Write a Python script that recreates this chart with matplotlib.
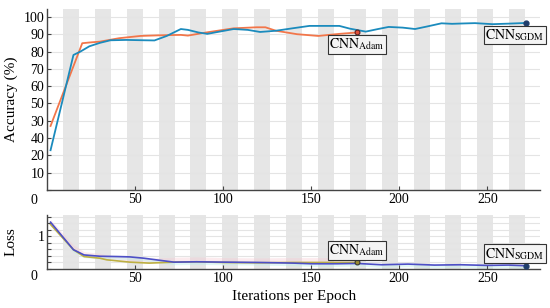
import numpy as np
import matplotlib
matplotlib.use('Agg')
import matplotlib.pyplot as plt

plt.rcParams['font.family'] = ['Liberation Serif', 'DejaVu Serif']
plt.rcParams['mathtext.fontset'] = 'stix'
plt.rcParams['font.size'] = 10

# accuracy curves (x = iteration, y = %)
acc_sgdm_x = [2, 15, 19, 24, 30, 36, 45, 55, 61, 68, 73, 76, 80, 86, 91, 98, 106,
              114, 121, 130, 140, 149, 157, 166, 172, 181, 188, 194, 202, 209,
              216, 224, 230, 236, 243, 253, 262, 272]
acc_sgdm_y = [23, 78, 80, 83, 85, 86.5, 86.7, 86.5, 86.4, 89, 91.5, 93, 92.5, 91,
              90.2, 91.5, 93, 92.5, 91.3, 92, 93.5, 94.8, 94.8, 94.8, 93.2, 91.5,
              93, 94.2, 93.8, 93, 94.5, 96.3, 96, 96.2, 96.4, 95.8, 96.1, 96.5]
acc_adam_x = [2, 20, 25, 30, 41, 53, 65, 76, 80, 91, 106, 119, 124, 130, 142, 154, 166, 176]
acc_adam_y = [37, 84.8, 85.3, 85.7, 87.7, 89, 89.4, 89.6, 89.2, 91.1, 93.4, 94, 94,
              92, 90, 89, 90.2, 91]

# loss curves
loss_sgdm_x = [2, 15, 21, 30, 40, 47, 55, 62, 72, 85, 100, 120, 140, 150, 165, 176,
               190, 205, 220, 235, 250, 262, 272]
loss_sgdm_y = [1.43, 0.59, 0.43, 0.39, 0.38, 0.37, 0.33, 0.28, 0.21, 0.22, 0.21, 0.2,
               0.18, 0.16, 0.16, 0.17, 0.13, 0.15, 0.12, 0.13, 0.11, 0.12, 0.1]
loss_adam_x = [2, 15, 21, 30, 34, 47, 58, 72, 85, 100, 120, 140, 160, 176]
loss_adam_y = [1.36, 0.59, 0.38, 0.33, 0.28, 0.21, 0.18, 0.21, 0.22, 0.2, 0.19, 0.2, 0.2, 0.2]

iters_per_epoch = 9.05
n_epochs = 30
acc_ticks = [0, 10, 20, 30, 40, 50, 60, 70, 80, 90, 100]
acc_ticklabels = ['', '10', '20', '40', '30', '50', '60', '70', '80', '90', '100']
x_ticks = [50, 100, 150, 200, 250]

C_ORANGE = '#f2764a'
C_BLUE = '#1b8bbd'
C_LBLUE = '#4d4fc6'
C_OLIVE = '#bdb043'
BAND = '#e6e6e6'
GRID = '#e4e4e4'
SPINE = '#444444'

fig = plt.figure(figsize=(5.5, 3.08), dpi=100)
ax1 = fig.add_axes([0.0855, 0.383, 0.8965, 0.588])
ax2 = fig.add_axes([0.0855, 0.1266, 0.8965, 0.1754])


def style(ax):
    ax.set_xlim(0, 280)
    for k in range(n_epochs // 2):
        ax.axvspan(iters_per_epoch * (2 * k + 1), iters_per_epoch * (2 * k + 2),
                   color=BAND, lw=0, zorder=0)
    for s in ['top', 'right']:
        ax.spines[s].set_visible(False)
    for s in ['left', 'bottom']:
        ax.spines[s].set_color(SPINE)
        ax.spines[s].set_linewidth(1.0)
    ax.tick_params(direction='in', length=3, color=SPINE, width=0.8, pad=2)
    ax.tick_params(which='minor', direction='in', length=3, color=SPINE, width=0.8)
    ax.set_xticks(x_ticks)
    ax.set_xticklabels([str(t) for t in x_ticks])
    ax.text(-0.02, -0.02, '0', transform=ax.transAxes, ha='right', va='top')


def tag(ax, x, y, name, dx, dy, va):
    ax.annotate('$\\mathrm{CNN}_{\\mathrm{' + name + '}}$', (x, y), xytext=(dx, dy),
                textcoords='offset points', ha='center', va=va, fontsize=10,
                bbox=dict(boxstyle='square,pad=0.1', fc='#f4f4f4', ec='#333333', lw=0.8),
                annotation_clip=False, zorder=6)


# accuracy
style(ax1)
ax1.set_ylim(0, 104.6)
ax1.set_yticks(acc_ticks)
ax1.set_yticklabels(acc_ticklabels)
for t in acc_ticks[1:]:
    ax1.axhline(t, color=GRID, lw=0.8, zorder=0.5)
ax1.plot(acc_adam_x, acc_adam_y, color=C_ORANGE, lw=1.3, zorder=3)
ax1.plot(acc_sgdm_x, acc_sgdm_y, color=C_BLUE, lw=1.3, zorder=4)
ax1.plot(acc_adam_x[-1], acc_adam_y[-1], 'o', ms=3.5, mfc='#e0503a', mec='#5a2020', mew=0.8, zorder=5)
ax1.plot(acc_sgdm_x[-1], acc_sgdm_y[-1], 'o', ms=3.5, mfc='#1f3d6b', mec='#1f3d6b', zorder=5)
ax1.set_ylabel('Accuracy (%)', fontsize=11, labelpad=4)
tag(ax1, acc_adam_x[-1], acc_adam_y[-1], 'Adam', 0, -3, 'top')
tag(ax1, acc_sgdm_x[-1], acc_sgdm_y[-1], 'SGDM', -8, -3, 'top')

# loss
style(ax2)
ax2.set_ylim(0, 1.65)
ax2.set_yticks([0, 1])
ax2.set_yticklabels(['', '1'])
ax2.set_yticks(np.arange(0.2, 1.61, 0.2), minor=True)
for t in np.arange(0.2, 1.61, 0.2):
    ax2.axhline(t, color=GRID, lw=0.8, zorder=0.5)
la_x, la_y = np.array(loss_adam_x), np.array(loss_adam_y)
ls_x, ls_y = np.array(loss_sgdm_x), np.array(loss_sgdm_y)
ax2.fill_between(la_x, la_y, la_y + 0.15, color='#f7c6d0', alpha=0.35, lw=0, zorder=1)
ax2.fill_between(ls_x, np.maximum(ls_y - 0.08, 0), ls_y, color='#bfeeea', alpha=0.45, lw=0, zorder=1)
ax2.plot(la_x, la_y, color=C_OLIVE, lw=1.2, zorder=3)
ax2.plot(ls_x, ls_y, color=C_LBLUE, lw=1.2, zorder=4)
ax2.plot(la_x[-1], la_y[-1], 'o', ms=3.5, mfc='#9a8a30', mec='#333333', mew=0.8, zorder=5)
ax2.plot(ls_x[-1], ls_y[-1], 'o', ms=3.5, mfc='#1f3d6b', mec='#1f3d6b', zorder=5)
ax2.set_ylabel('Loss', fontsize=11, labelpad=14)
ax2.set_xlabel('Iterations per Epoch', fontsize=11, labelpad=4)
tag(ax2, la_x[-1], la_y[-1], 'Adam', 0, 3, 'bottom')
tag(ax2, ls_x[-1], ls_y[-1], 'SGDM', -8, 3, 'bottom')

fig.savefig('out.png', dpi=100)
